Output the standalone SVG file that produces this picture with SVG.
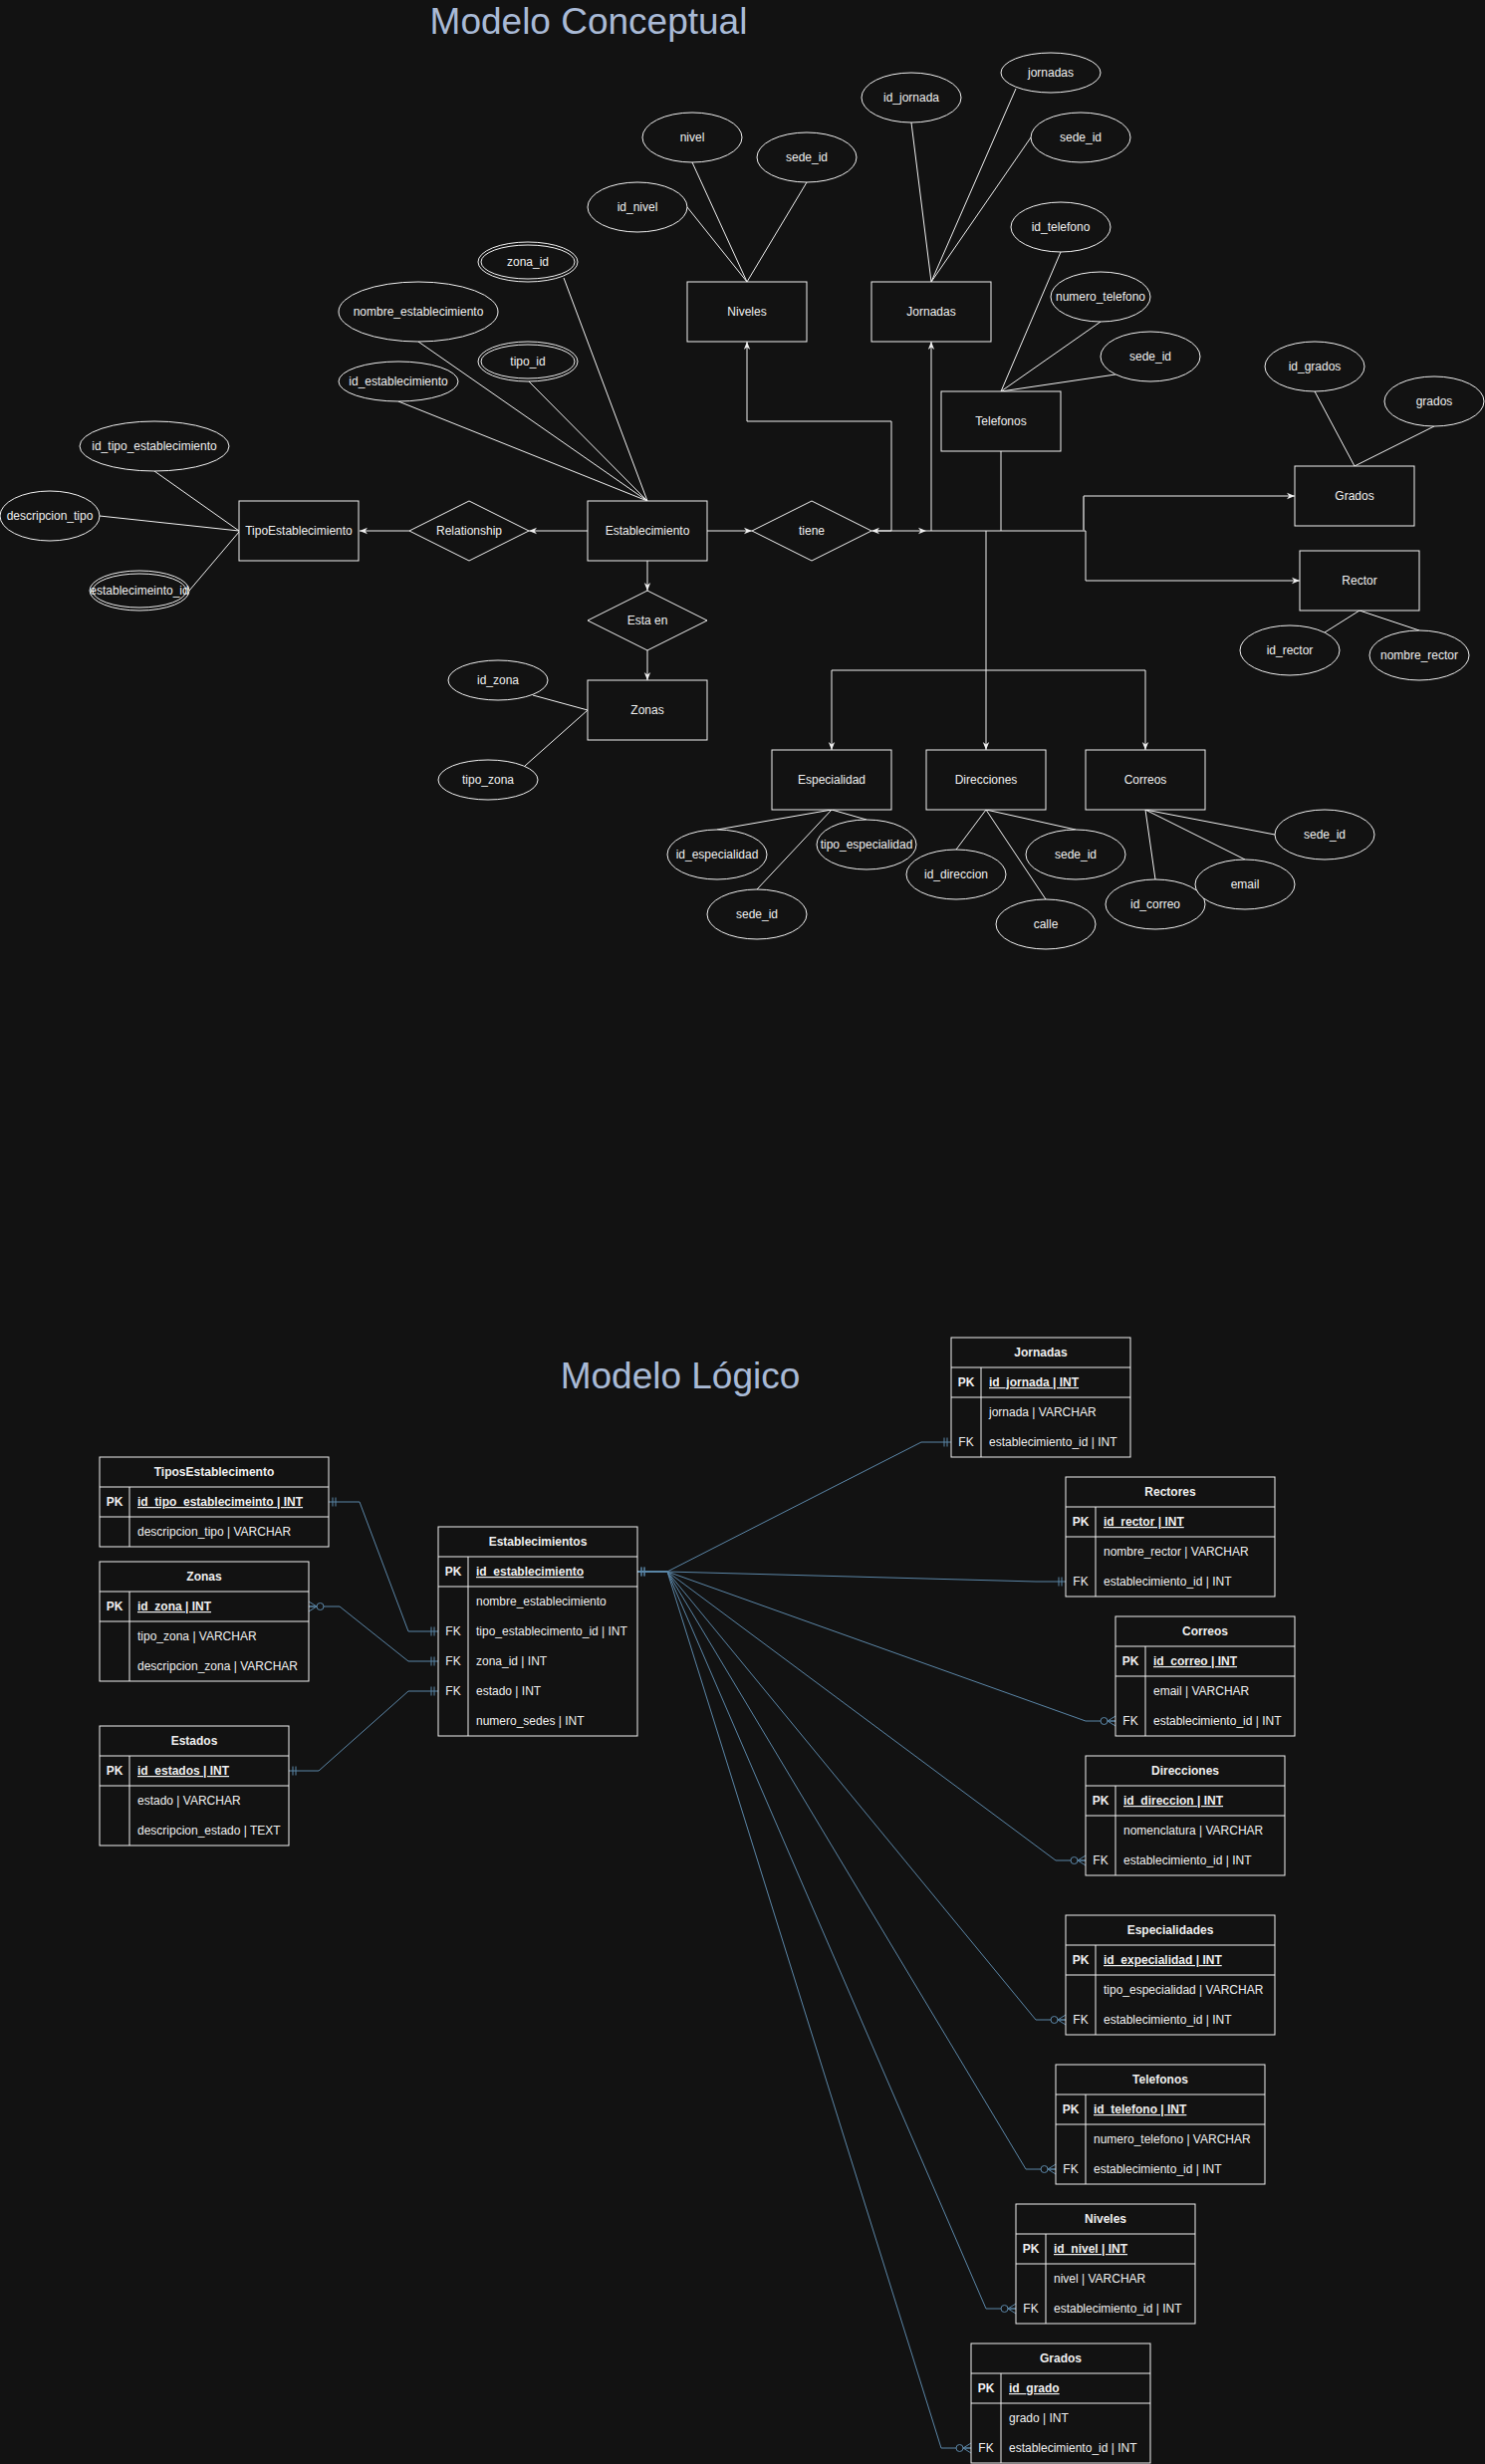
<svg xmlns="http://www.w3.org/2000/svg" width="1491" height="2474" viewBox="0 0 1491 2474">
<style>
.t{font-family:"Liberation Sans",Arial,Helvetica,sans-serif;font-size:12px;fill:#f0f0f0;text-anchor:middle}
.l{text-anchor:start}
.b{font-weight:bold}
.u{text-decoration:underline}
.title{font-family:"Liberation Sans",Arial,Helvetica,sans-serif;font-size:37px;fill:#a9bad6;text-anchor:middle}
.ent{fill:#121212;stroke:#f0f0f0;stroke-width:1}
.ln{stroke:#f0f0f0;stroke-width:1;fill:none}
.ar{stroke:#f0f0f0;stroke-width:1;fill:none;marker-end:url(#arr)}
.er{stroke:#5b86a7;stroke-width:1;fill:none}
.sep{stroke:#f0f0f0;stroke-width:1}
</style>
<defs>
<marker id="arr" viewBox="0 0 10 10" refX="10" refY="5" markerWidth="8" markerHeight="8" markerUnits="userSpaceOnUse" orient="auto"><path d="M0,1 L10,5 L0,9 L3,5 z" fill="#f0f0f0"/></marker>
<marker id="one" viewBox="0 0 12 12" refX="12" refY="6" markerWidth="12" markerHeight="12" markerUnits="userSpaceOnUse" orient="auto-start-reverse"><path d="M8,1.5V10.5M5,1.5V10.5" stroke="#5b86a7" fill="none"/></marker>
<marker id="zmany" viewBox="0 0 20 12" refX="20" refY="6" markerWidth="20" markerHeight="12" markerUnits="userSpaceOnUse" orient="auto-start-reverse"><circle cx="8.5" cy="6" r="3.5" fill="#121212" stroke="#5b86a7"/><path d="M20,1 L12,6 L20,11 M12,6 H20" stroke="#5b86a7" fill="none"/></marker>
</defs>
<rect x="0" y="0" width="1491" height="2474" fill="#121212"/>

<text class="title" x="591" y="34">Modelo Conceptual</text>
<text class="title" x="683" y="1394">Modelo Lógico</text>

<!-- conceptual connectors -->
<g id="connectors-conceptual">
<path class="ln" d="M155,473 L240,533"/>
<path class="ln" d="M100,518 L240,533"/>
<path class="ln" d="M190,593 L240,534"/>
<path class="ln" d="M566,279 L650,503"/>
<path class="ln" d="M420,343 L650,503"/>
<path class="ln" d="M531,383 L650,503"/>
<path class="ln" d="M400,403 L650,503"/>
<path class="ln" d="M695,163 L750,283"/>
<path class="ln" d="M810,183 L750,283"/>
<path class="ln" d="M690,208 L750,283"/>
<path class="ln" d="M915,123 L935,283"/>
<path class="ln" d="M1020,89 L935,283"/>
<path class="ln" d="M1035,138 L935,283"/>
<path class="ln" d="M1065,253 L1005,393"/>
<path class="ln" d="M1105,323 L1005,393"/>
<path class="ln" d="M1120,376 L1005,393"/>
<path class="ln" d="M1320,393 L1360,468"/>
<path class="ln" d="M1440,428 L1360,468"/>
<path class="ln" d="M1330,635 L1365,613"/>
<path class="ln" d="M1425,633 L1365,613"/>
<path class="ln" d="M535,698 L590,713"/>
<path class="ln" d="M527,769 L590,713"/>
<path class="ln" d="M720,833 L835,813"/>
<path class="ln" d="M870,823 L835,813"/>
<path class="ln" d="M760,893 L835,813"/>
<path class="ln" d="M960,853 L990,813"/>
<path class="ln" d="M1080,833 L990,813"/>
<path class="ln" d="M1050,903 L990,813"/>
<path class="ln" d="M1160,883 L1150,813"/>
<path class="ln" d="M1250,863 L1150,813"/>
<path class="ln" d="M1280,838 L1150,813"/>

<path class="ar" d="M590,533 L531,533"/>
<path class="ar" d="M411,533 L361,533"/>
<path class="ar" d="M710,533 L755,533"/>
<path class="ar" d="M650,563 L650,593"/>
<path class="ar" d="M650,653 L650,683"/>
<path class="ar" d="M895,533 L875,533"/>
<path class="ar" d="M880,533 L930,533"/>
<path class="ar" d="M895,533 V423 H750 V343"/>
<path class="ar" d="M930,533 H935 V343"/>
<path class="ln" d="M935,533 H1090"/>
<path class="ar" d="M1090,533 V583 H1305"/>
<path class="ar" d="M1088,533 V498 H1300"/>
<path d="M1088,533 V499" stroke="#9a9a9a" stroke-width="2" fill="none"/>
<path class="ln" d="M1005,453 V533"/>
<path class="ar" d="M990,533 V753"/>
<path class="ar" d="M990,673 H835 V753"/>
<path class="ar" d="M990,673 H1150 V753"/>
</g>

<!-- conceptual entities -->
<g id="TipoEstablecimiento"><rect class="ent" x="240" y="503" width="120" height="60"/><text class="t" x="300" y="537">TipoEstablecimiento</text></g>
<g id="Establecimiento"><rect class="ent" x="590" y="503" width="120" height="60"/><text class="t" x="650" y="537">Establecimiento</text></g>
<g id="Niveles"><rect class="ent" x="690" y="283" width="120" height="60"/><text class="t" x="750" y="317">Niveles</text></g>
<g id="Jornadas"><rect class="ent" x="875" y="283" width="120" height="60"/><text class="t" x="935" y="317">Jornadas</text></g>
<g id="Telefonos"><rect class="ent" x="945" y="393" width="120" height="60"/><text class="t" x="1005" y="427">Telefonos</text></g>
<g id="Grados"><rect class="ent" x="1300" y="468" width="120" height="60"/><text class="t" x="1360" y="502">Grados</text></g>
<g id="Rector"><rect class="ent" x="1305" y="553" width="120" height="60"/><text class="t" x="1365" y="587">Rector</text></g>
<g id="Zonas"><rect class="ent" x="590" y="683" width="120" height="60"/><text class="t" x="650" y="717">Zonas</text></g>
<g id="Especialidad"><rect class="ent" x="775" y="753" width="120" height="60"/><text class="t" x="835" y="787">Especialidad</text></g>
<g id="Direcciones"><rect class="ent" x="930" y="753" width="120" height="60"/><text class="t" x="990" y="787">Direcciones</text></g>
<g id="Correos"><rect class="ent" x="1090" y="753" width="120" height="60"/><text class="t" x="1150" y="787">Correos</text></g>

<g id="Relationship"><path class="ent" d="M411,533 L471,503 L531,533 L471,563 z"/><text class="t" x="471" y="537">Relationship</text></g>
<g id="tiene"><path class="ent" d="M755,533 L815,503 L875,533 L815,563 z"/><text class="t" x="815" y="537">tiene</text></g>
<g id="EstaEn"><path class="ent" d="M590,623 L650,593 L710,623 L650,653 z"/><text class="t" x="650" y="627">Esta en</text></g>

<!-- attributes -->
<g id="a_id_tipo_establecimiento"><ellipse class="ent" cx="155" cy="448" rx="75" ry="25"/><text class="t" x="155" y="452">id_tipo_establecimiento</text></g>
<g id="a_descripcion_tipo"><ellipse class="ent" cx="50" cy="518" rx="50" ry="25"/><text class="t" x="50" y="522">descripcion_tipo</text></g>
<g id="a_establecimeinto_id"><ellipse class="ent" cx="140" cy="593" rx="50" ry="20"/><ellipse class="ent" cx="140" cy="593" rx="47" ry="17"/><text class="t" x="140" y="597">establecimeinto_id</text></g>
<g id="a_zona_id"><ellipse class="ent" cx="530" cy="263" rx="50" ry="20"/><ellipse class="ent" cx="530" cy="263" rx="47" ry="17"/><text class="t" x="530" y="267">zona_id</text></g>
<g id="a_nombre_establecimiento"><ellipse class="ent" cx="420" cy="313" rx="80" ry="30"/><text class="t" x="420" y="317">nombre_establecimiento</text></g>
<g id="a_tipo_id"><ellipse class="ent" cx="530" cy="363" rx="50" ry="20"/><ellipse class="ent" cx="530" cy="363" rx="47" ry="17"/><text class="t" x="530" y="367">tipo_id</text></g>
<g id="a_id_establecimiento"><ellipse class="ent" cx="400" cy="383" rx="60" ry="20"/><text class="t" x="400" y="387">id_establecimiento</text></g>
<g id="a_nivel"><ellipse class="ent" cx="695" cy="138" rx="50" ry="25"/><text class="t" x="695" y="142">nivel</text></g>
<g id="a_sede_id_niveles"><ellipse class="ent" cx="810" cy="158" rx="50" ry="25"/><text class="t" x="810" y="162">sede_id</text></g>
<g id="a_id_nivel"><ellipse class="ent" cx="640" cy="208" rx="50" ry="25"/><text class="t" x="640" y="212">id_nivel</text></g>
<g id="a_id_jornada"><ellipse class="ent" cx="915" cy="98" rx="50" ry="25"/><text class="t" x="915" y="102">id_jornada</text></g>
<g id="a_jornadas"><ellipse class="ent" cx="1055" cy="73" rx="50" ry="20"/><text class="t" x="1055" y="77">jornadas</text></g>
<g id="a_sede_id_jornadas"><ellipse class="ent" cx="1085" cy="138" rx="50" ry="25"/><text class="t" x="1085" y="142">sede_id</text></g>
<g id="a_id_telefono"><ellipse class="ent" cx="1065" cy="228" rx="50" ry="25"/><text class="t" x="1065" y="232">id_telefono</text></g>
<g id="a_numero_telefono"><ellipse class="ent" cx="1105" cy="298" rx="50" ry="25"/><text class="t" x="1105" y="302">numero_telefono</text></g>
<g id="a_sede_id_telefonos"><ellipse class="ent" cx="1155" cy="358" rx="50" ry="25"/><text class="t" x="1155" y="362">sede_id</text></g>
<g id="a_id_grados"><ellipse class="ent" cx="1320" cy="368" rx="50" ry="25"/><text class="t" x="1320" y="372">id_grados</text></g>
<g id="a_grados"><ellipse class="ent" cx="1440" cy="403" rx="50" ry="25"/><text class="t" x="1440" y="407">grados</text></g>
<g id="a_id_rector"><ellipse class="ent" cx="1295" cy="653" rx="50" ry="25"/><text class="t" x="1295" y="657">id_rector</text></g>
<g id="a_nombre_rector"><ellipse class="ent" cx="1425" cy="658" rx="50" ry="25"/><text class="t" x="1425" y="662">nombre_rector</text></g>
<g id="a_id_zona"><ellipse class="ent" cx="500" cy="683" rx="50" ry="20"/><text class="t" x="500" y="687">id_zona</text></g>
<g id="a_tipo_zona"><ellipse class="ent" cx="490" cy="783" rx="50" ry="20"/><text class="t" x="490" y="787">tipo_zona</text></g>
<g id="a_id_especialidad"><ellipse class="ent" cx="720" cy="858" rx="50" ry="25"/><text class="t" x="720" y="862">id_especialidad</text></g>
<g id="a_tipo_especialidad"><ellipse class="ent" cx="870" cy="848" rx="50" ry="25"/><text class="t" x="870" y="852">tipo_especialidad</text></g>
<g id="a_sede_id_especialidad"><ellipse class="ent" cx="760" cy="918" rx="50" ry="25"/><text class="t" x="760" y="922">sede_id</text></g>
<g id="a_id_direccion"><ellipse class="ent" cx="960" cy="878" rx="50" ry="25"/><text class="t" x="960" y="882">id_direccion</text></g>
<g id="a_sede_id_direcciones"><ellipse class="ent" cx="1080" cy="858" rx="50" ry="25"/><text class="t" x="1080" y="862">sede_id</text></g>
<g id="a_calle"><ellipse class="ent" cx="1050" cy="928" rx="50" ry="25"/><text class="t" x="1050" y="932">calle</text></g>
<g id="a_id_correo"><ellipse class="ent" cx="1160" cy="908" rx="50" ry="25"/><text class="t" x="1160" y="912">id_correo</text></g>
<g id="a_email"><ellipse class="ent" cx="1250" cy="888" rx="50" ry="25"/><text class="t" x="1250" y="892">email</text></g>
<g id="a_sede_id_correos"><ellipse class="ent" cx="1330" cy="838" rx="50" ry="25"/><text class="t" x="1330" y="842">sede_id</text></g>

<!-- logical connectors -->
<g id="connectors-logical">
<path class="er" d="M330,1508 H361 L410,1638 H440" marker-start="url(#one)" marker-end="url(#one)"/>
<path class="er" d="M310,1613 H341 L410,1668 H440" marker-start="url(#zmany)" marker-end="url(#one)"/>
<path class="er" d="M290,1778 H320 L410,1698 H440" marker-start="url(#one)" marker-end="url(#one)"/>
<path class="er" d="M640,1578 H670 L925,1448 H955" marker-start="url(#one)" marker-end="url(#one)"/>
<path class="er" d="M640,1578 H670 L1040,1588 H1070" marker-start="url(#one)" marker-end="url(#one)"/>
<path class="er" d="M640,1578 H670 L1090,1728 H1120" marker-end="url(#zmany)"/>
<path class="er" d="M640,1578 H670 L1060,1868 H1090" marker-end="url(#zmany)"/>
<path class="er" d="M640,1578 H670 L1040,2028 H1070" marker-end="url(#zmany)"/>
<path class="er" d="M640,1578 H670 L1030,2178 H1060" marker-end="url(#zmany)"/>
<path class="er" d="M640,1578 H670 L990,2318 H1020" marker-end="url(#zmany)"/>
<path class="er" d="M640,1578 H670 L945,2458 H975" marker-end="url(#zmany)"/>
</g>

<!-- logical tables -->
<g id="TiposEstablecimento">
<rect class="ent" x="100" y="1463" width="230" height="90"/>
<path class="sep" d="M100,1493 H330 M100,1523 H330 M130,1493 V1553"/>
<text class="t b" x="215" y="1482">TiposEstablecimento</text>
<text class="t b" x="115" y="1512">PK</text>
<text class="t l b u" x="138" y="1512">id_tipo_establecimeinto | INT</text>
<text class="t l" x="138" y="1542">descripcion_tipo | VARCHAR</text>
</g>
<g id="Zonas_t">
<rect class="ent" x="100" y="1568" width="210" height="120"/>
<path class="sep" d="M100,1598 H310 M100,1628 H310 M130,1598 V1688"/>
<text class="t b" x="205" y="1587">Zonas</text>
<text class="t b" x="115" y="1617">PK</text>
<text class="t l b u" x="138" y="1617">id_zona | INT</text>
<text class="t l" x="138" y="1647">tipo_zona | VARCHAR</text>
<text class="t l" x="138" y="1677">descripcion_zona | VARCHAR</text>
</g>
<g id="Estados">
<rect class="ent" x="100" y="1733" width="190" height="120"/>
<path class="sep" d="M100,1763 H290 M100,1793 H290 M130,1763 V1853"/>
<text class="t b" x="195" y="1752">Estados</text>
<text class="t b" x="115" y="1782">PK</text>
<text class="t l b u" x="138" y="1782">id_estados | INT</text>
<text class="t l" x="138" y="1812">estado | VARCHAR</text>
<text class="t l" x="138" y="1842">descripcion_estado | TEXT</text>
</g>
<g id="Establecimientos">
<rect class="ent" x="440" y="1533" width="200" height="210"/>
<path class="sep" d="M440,1563 H640 M440,1593 H640 M470,1563 V1743"/>
<text class="t b" x="540" y="1552">Establecimientos</text>
<text class="t b" x="455" y="1582">PK</text>
<text class="t l b u" x="478" y="1582">id_establecimiento</text>
<text class="t l" x="478" y="1612">nombre_establecimiento</text>
<text class="t" x="455" y="1642">FK</text>
<text class="t l" x="478" y="1642">tipo_establecimento_id | INT</text>
<text class="t" x="455" y="1672">FK</text>
<text class="t l" x="478" y="1672">zona_id | INT</text>
<text class="t" x="455" y="1702">FK</text>
<text class="t l" x="478" y="1702">estado | INT</text>
<text class="t l" x="478" y="1732">numero_sedes | INT</text>
</g>
<g id="Jornadas_t">
<rect class="ent" x="955" y="1343" width="180" height="120"/>
<path class="sep" d="M955,1373 H1135 M955,1403 H1135 M985,1373 V1463"/>
<text class="t b" x="1045" y="1362">Jornadas</text>
<text class="t b" x="970" y="1392">PK</text>
<text class="t l b u" x="993" y="1392">id_jornada | INT</text>
<text class="t l" x="993" y="1422">jornada | VARCHAR</text>
<text class="t" x="970" y="1452">FK</text>
<text class="t l" x="993" y="1452">establecimiento_id | INT</text>
</g>
<g id="Rectores">
<rect class="ent" x="1070" y="1483" width="210" height="120"/>
<path class="sep" d="M1070,1513 H1280 M1070,1543 H1280 M1100,1513 V1603"/>
<text class="t b" x="1175" y="1502">Rectores</text>
<text class="t b" x="1085" y="1532">PK</text>
<text class="t l b u" x="1108" y="1532">id_rector | INT</text>
<text class="t l" x="1108" y="1562">nombre_rector | VARCHAR</text>
<text class="t" x="1085" y="1592">FK</text>
<text class="t l" x="1108" y="1592">establecimiento_id | INT</text>
</g>
<g id="Correos_t">
<rect class="ent" x="1120" y="1623" width="180" height="120"/>
<path class="sep" d="M1120,1653 H1300 M1120,1683 H1300 M1150,1653 V1743"/>
<text class="t b" x="1210" y="1642">Correos</text>
<text class="t b" x="1135" y="1672">PK</text>
<text class="t l b u" x="1158" y="1672">id_correo | INT</text>
<text class="t l" x="1158" y="1702">email | VARCHAR</text>
<text class="t" x="1135" y="1732">FK</text>
<text class="t l" x="1158" y="1732">establecimiento_id | INT</text>
</g>
<g id="Direcciones_t">
<rect class="ent" x="1090" y="1763" width="200" height="120"/>
<path class="sep" d="M1090,1793 H1290 M1090,1823 H1290 M1120,1793 V1883"/>
<text class="t b" x="1190" y="1782">Direcciones</text>
<text class="t b" x="1105" y="1812">PK</text>
<text class="t l b u" x="1128" y="1812">id_direccion | INT</text>
<text class="t l" x="1128" y="1842">nomenclatura | VARCHAR</text>
<text class="t" x="1105" y="1872">FK</text>
<text class="t l" x="1128" y="1872">establecimiento_id | INT</text>
</g>
<g id="Especialidades">
<rect class="ent" x="1070" y="1923" width="210" height="120"/>
<path class="sep" d="M1070,1953 H1280 M1070,1983 H1280 M1100,1953 V2043"/>
<text class="t b" x="1175" y="1942">Especialidades</text>
<text class="t b" x="1085" y="1972">PK</text>
<text class="t l b u" x="1108" y="1972">id_expecialidad | INT</text>
<text class="t l" x="1108" y="2002">tipo_especialidad | VARCHAR</text>
<text class="t" x="1085" y="2032">FK</text>
<text class="t l" x="1108" y="2032">establecimiento_id | INT</text>
</g>
<g id="Telefonos_t">
<rect class="ent" x="1060" y="2073" width="210" height="120"/>
<path class="sep" d="M1060,2103 H1270 M1060,2133 H1270 M1090,2103 V2193"/>
<text class="t b" x="1165" y="2092">Telefonos</text>
<text class="t b" x="1075" y="2122">PK</text>
<text class="t l b u" x="1098" y="2122">id_telefono | INT</text>
<text class="t l" x="1098" y="2152">numero_telefono | VARCHAR</text>
<text class="t" x="1075" y="2182">FK</text>
<text class="t l" x="1098" y="2182">establecimiento_id | INT</text>
</g>
<g id="Niveles_t">
<rect class="ent" x="1020" y="2213" width="180" height="120"/>
<path class="sep" d="M1020,2243 H1200 M1020,2273 H1200 M1050,2243 V2333"/>
<text class="t b" x="1110" y="2232">Niveles</text>
<text class="t b" x="1035" y="2262">PK</text>
<text class="t l b u" x="1058" y="2262">id_nivel | INT</text>
<text class="t l" x="1058" y="2292">nivel | VARCHAR</text>
<text class="t" x="1035" y="2322">FK</text>
<text class="t l" x="1058" y="2322">establecimiento_id | INT</text>
</g>
<g id="Grados_t">
<rect class="ent" x="975" y="2353" width="180" height="120"/>
<path class="sep" d="M975,2383 H1155 M975,2413 H1155 M1005,2383 V2473"/>
<text class="t b" x="1065" y="2372">Grados</text>
<text class="t b" x="990" y="2402">PK</text>
<text class="t l b u" x="1013" y="2402">id_grado</text>
<text class="t l" x="1013" y="2432">grado | INT</text>
<text class="t" x="990" y="2462">FK</text>
<text class="t l" x="1013" y="2462">establecimiento_id | INT</text>
</g>
</svg>
